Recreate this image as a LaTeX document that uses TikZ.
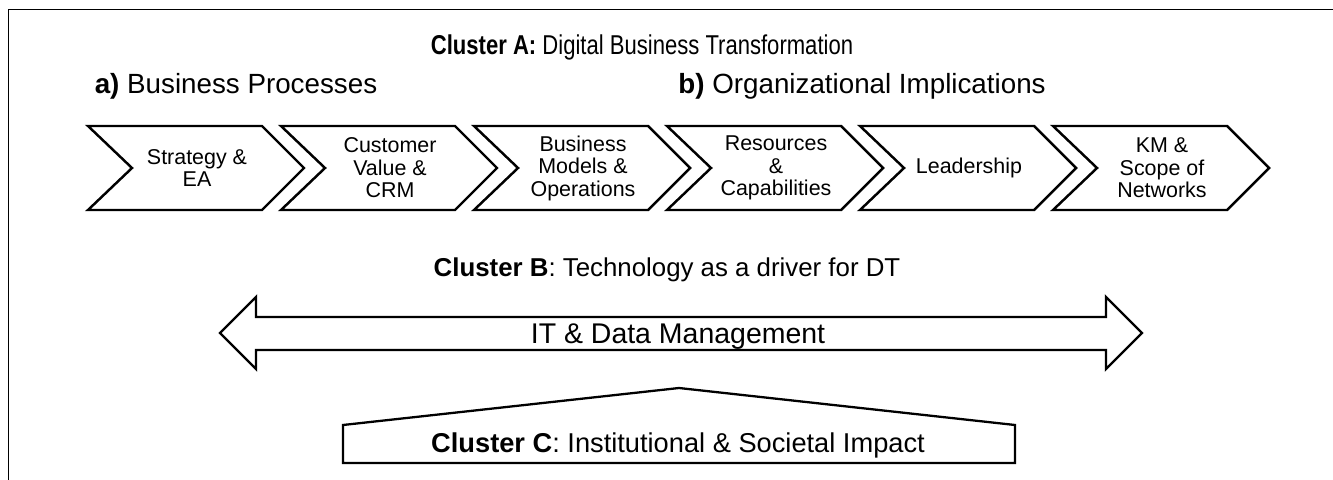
\documentclass[tikz,border=0pt]{standalone}
\usepackage{fontspec}
\setmainfont{Liberation Sans}
\newfontfamily\narrowsans{Liberation Sans}[FakeStretch=0.81]

\tikzset{
  chevron/.style={draw, line width=1.4pt, line join=miter},
  chevlabel/.style={align=center, font=\fontsize{12.2}{12.8}\selectfont},
  headline/.style={anchor=base, font=\fontsize{14.7}{17}\selectfont},
  subline/.style={anchor=base, font=\fontsize{15.8}{18}\selectfont},
  bigarrow/.style={draw, line width=1.3pt, line join=miter},
}

\begin{document}
\begin{tikzpicture}[x=0.2mm,y=-0.2mm]
        \useasboundingbox (0,0) rectangle (1333,480);

        % Frame (top and left edge only)
        \draw[line width=0.8pt] (1333,9.5) -- (8.5,9.5) -- (8.5,480);

        % Headings
        \node[headline, font=\narrowsans\fontsize{15.5}{18}\selectfont] (clusterA) at (642,55) {\textbf{Cluster A:} Digital Business Transformation};
        \node[subline] (procs) at (236,94) {\textbf{a)} Business Processes};
        \node[subline] (orgimpl) at (862,94) {\textbf{b)} Organizational Implications};

        % Value chain chevrons
        \draw[chevron] (88,126) -- ++(174,0) -- ++(42,42) -- ++(-42,42) -- ++(-174,0) -- ++(44,-42) -- cycle;
        \draw[chevron] (281,126) -- ++(174,0) -- ++(42,42) -- ++(-42,42) -- ++(-174,0) -- ++(44,-42) -- cycle;
        \draw[chevron] (474,126) -- ++(174,0) -- ++(42,42) -- ++(-42,42) -- ++(-174,0) -- ++(44,-42) -- cycle;
        \draw[chevron] (667,126) -- ++(174,0) -- ++(42,42) -- ++(-42,42) -- ++(-174,0) -- ++(44,-42) -- cycle;
        \draw[chevron] (860,126) -- ++(174,0) -- ++(42,42) -- ++(-42,42) -- ++(-174,0) -- ++(44,-42) -- cycle;
        \draw[chevron] (1053,126) -- ++(174,0) -- ++(42,42) -- ++(-42,42) -- ++(-174,0) -- ++(44,-42) -- cycle;

        % Chevron labels
        \node[chevlabel] (strategy) at (197,168) {Strategy \&\\EA};
        \node[chevlabel] (customer) at (390,168) {Customer\\Value \&\\CRM};
        \node[chevlabel] (models) at (583,168) {Business\\Models \&\\Operations};
        \node[chevlabel] (resources) at (776,168) {Resources\\\&\\Capabilities};
        \node[chevlabel] (leadership) at (969,168) {Leadership};
        \node[chevlabel] (networks) at (1162,168) {KM \&\\Scope of\\Networks};

        % Cluster B
        \node[headline] (clusterB) at (667,276) {\textbf{Cluster B}: Technology as a driver for DT};
        \draw[bigarrow] (220,333) -- (256,297) -- (256,317) -- (1106,317) -- (1106,297) -- (1142,333)
                -- (1106,369) -- (1106,350) -- (256,350) -- (256,369) -- cycle;
        \node[subline, font=\fontsize{16.2}{18}\selectfont] (itdata) at (678,343) {IT \& Data Management};

        % Cluster C
        \draw[bigarrow] (343,463) -- (343,425) -- (679,388) -- (1015,425) -- (1015,463) -- cycle;
        \node[subline, font=\fontsize{15.5}{18}\selectfont] (clusterC) at (678,452) {\textbf{Cluster C}: Institutional \& Societal Impact};

    \end{tikzpicture}
\end{document}
